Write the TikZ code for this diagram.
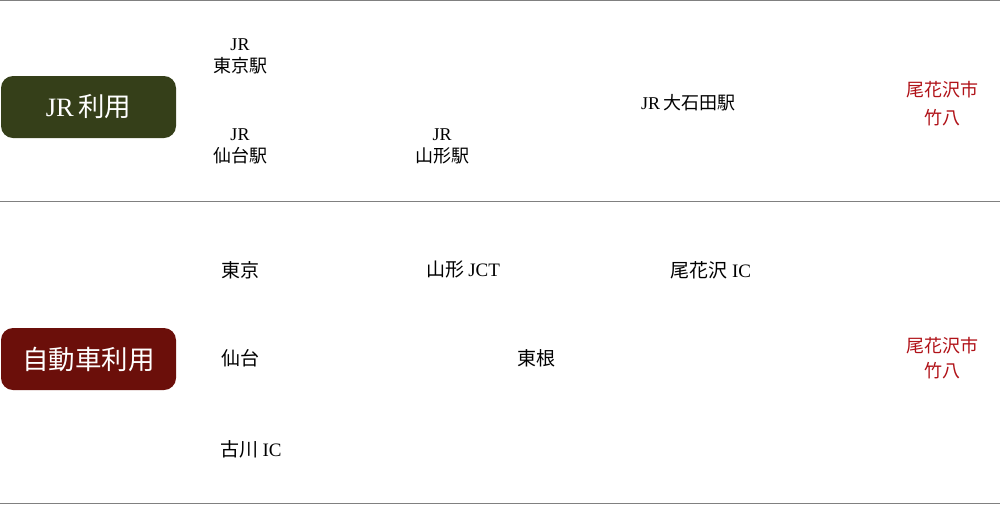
\documentclass[tikz,border=0pt]{standalone}
\usepackage{fontspec}
\setmainfont{Liberation Serif}
\newfontfamily\jfont{Noto Sans CJK JP}
\usetikzlibrary{positioning}
\definecolor{jrgreen}{HTML}{353F19}
\definecolor{carred}{HTML}{6B0F0A}
\definecolor{placered}{HTML}{B01218}
\definecolor{rulegray}{HTML}{808080}
\newcommand{\lat}[1]{{\rmfamily #1}}
\tikzstyle{modebox}=[rectangle, rounded corners=12pt, minimum width=175pt, minimum height=62pt, inner sep=0pt, text=white, font=\jfont\fontsize{26.5}{30}\selectfont]
\tikzstyle{stopnode}=[align=center, inner sep=0pt, font=\jfont\fontsize{18}{22}\selectfont]
\tikzstyle{roadnode}=[stopnode, font=\jfont\fontsize{19}{22}\selectfont]
\tikzstyle{goalnode}=[stopnode, text=placered, font=\jfont\fontsize{18}{28}\selectfont]
\tikzstyle{rowrule}=[draw=rulegray, line width=1pt]

\begin{document}
\begin{tikzpicture}[x=1pt, y=-1pt]
        \useasboundingbox (0,0) rectangle (1000,504);
        % rules
        \coordinate (t0) at (0,0.5);   \coordinate (t1) at (1000,0.5);
        \coordinate (m0) at (0,201);   \coordinate (m1) at (1000,201);
        \coordinate (b0) at (0,503.5); \coordinate (b1) at (1000,503.5);
        \draw[rowrule] (t0) -- (t1);
        \draw[rowrule] (m0) -- (m1);
        \draw[rowrule] (b0) -- (b1);
        % JR
        \node[modebox, fill=jrgreen] (jr) at (88.5,107) {\lat{JR}\,利用};
        \node[stopnode] (tokyost) at (240,56) {\lat{JR}\\東京駅};
        \node[stopnode] (sendaist) at (240,146) {\lat{JR}\\仙台駅};
        \node[stopnode] (yamagatast) at (442,146) {\lat{JR}\\山形駅};
        \node[stopnode] (oishida) at (688,103) {\lat{JR}\,大石田駅};
        \node[goalnode] (goaljr) at (942,104) {尾花沢市\\竹八};
        % car
        \node[modebox, fill=carred] (car) at (88.5,359) {自動車利用};
        \node[roadnode] (tokyo) at (240,270) {東京};
        \node[roadnode] (jct) at (463,269) {山形 \lat{JCT}};
        \node[roadnode] (obanazawaic) at (711,270) {尾花沢 \lat{IC}};
        \node[roadnode] (sendai) at (240,358) {仙台};
        \node[roadnode] (higashine) at (536,358) {東根};
        \node[roadnode] (furukawa) at (251,449) {古川 \lat{IC}};
        \node[goalnode, font=\jfont\fontsize{18}{25}\selectfont] (goalcar) at (942,358) {尾花沢市\\竹八};
      \end{tikzpicture}
\end{document}
